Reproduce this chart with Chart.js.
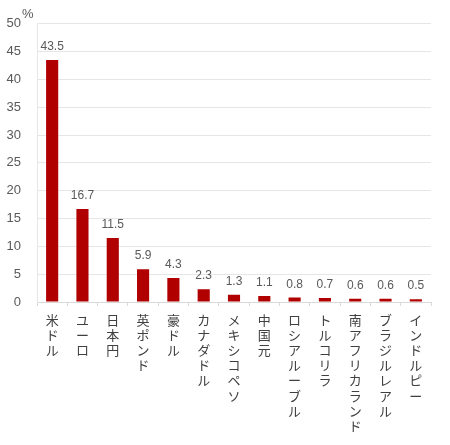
<!DOCTYPE html>
<html>
<head>
<meta charset="utf-8">
<script src="https://cdn.jsdelivr.net/npm/chart.js@4.4.1/dist/chart.umd.min.js"></script>
<style>
  html, body { margin: 0; padding: 0; background: #fff; }
  #wrap { width: 450px; height: 445px; }
</style>
</head>
<body>
<div id="wrap"><canvas id="bar-chart"></canvas></div>
<script>
const currencies = ['米ドル', 'ユーロ', '日本円', '英ポンド', '豪ドル', 'カナダドル', 'メキシコペソ',
    '中国元', 'ロシアルーブル', 'トルコリラ', '南アフリカランド', 'ブラジルレアル', 'インドルピー'];
const shares = [43.5, 16.7, 11.5, 5.9, 4.3, 2.3, 1.3, 1.1, 0.8, 0.7, 0.6, 0.6, 0.5];
const yTicks = [0, 5, 10, 15, 20, 25, 30, 35, 40, 45, 50];

const textColor = '#595959';
const font = "'Liberation Sans', Arial, sans-serif";
const jpFont = "'Noto Sans CJK JP', sans-serif";

// value labels above each bar + the unit mark
const valueLabels = {
    id: 'valueLabels',
    afterDatasetsDraw(chart) {
        const ctx = chart.ctx;
        const meta = chart.getDatasetMeta(0);
        ctx.save();
        ctx.fillStyle = textColor;
        ctx.font = `12px ${font}`;
        ctx.textAlign = 'center';
        ctx.textBaseline = 'alphabetic';
        meta.data.forEach((bar, i) => {
            ctx.fillText(shares[i].toFixed(1), bar.x, bar.y - 10);
        });
        ctx.textAlign = 'left';
        ctx.font = `13px ${font}`;
        ctx.fillText('%', chart.chartArea.left - 15, 18);
        ctx.restore();
    }
};

new Chart(document.querySelector('#bar-chart'), {
    type: 'bar',
    data: {
        labels: currencies.map(c => c.split('')),
        datasets: [{
            data: shares,
            backgroundColor: '#b00000',
            borderWidth: 0,
            barPercentage: 0.4,
            categoryPercentage: 1.0
        }]
    },
    options: {
        responsive: true,
        maintainAspectRatio: false,
        animation: false,
        layout: { padding: { top: 22, right: 19, left: 0, bottom: 0 } },
        plugins: {
            legend: { display: false },
            tooltip: { enabled: false }
        },
        scales: {
            x: {
                afterFit: (scale) => { scale.height = 143; },
                border: { color: '#d9d9d9' },
                grid: {
                    offset: true,
                    drawOnChartArea: false,
                    tickLength: 4,
                    color: '#d9d9d9'
                },
                ticks: {
                    color: '#404040',
                    font: { family: jpFont, size: 13, lineHeight: 1.17 },
                    maxRotation: 0,
                    autoSkip: false,
                    padding: 6
                }
            },
            y: {
                min: 0,
                max: 50,
                afterFit: (scale) => { scale.width = 37; },
                afterBuildTicks: (scale) => { scale.ticks = yTicks.map(v => ({ value: v })); },
                border: { display: true, color: '#e6e6e6' },
                grid: { color: '#e6e6e6', tickLength: 0 },
                ticks: {
                    color: textColor,
                    font: { family: font, size: 13 },
                    padding: 16
                }
            }
        }
    },
    plugins: [valueLabels]
});
</script>
</body>
</html>
